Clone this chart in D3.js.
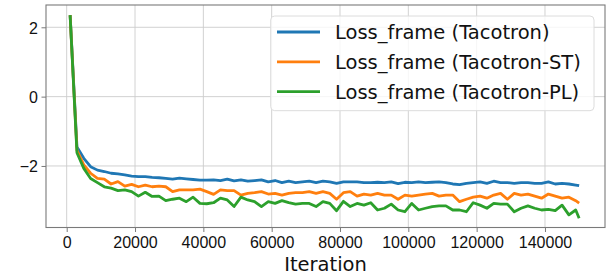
<!DOCTYPE html>
<html>
<head>
<meta charset="utf-8">
<script src="https://cdn.jsdelivr.net/npm/d3@7"></script>
<style>
  body { margin: 0; background: #fff; }
  svg { display: block; font-family: 'DejaVu Sans', sans-serif; }
  .grid line { stroke: #cccccc; stroke-width: 0.9; }
  .axis path, .axis line { stroke: #7a7a7a; }
  .axis text { fill: #111; font-size: 16px; }
</style>
</head>
<body>
<script>
// Data
const iterations = d3.range(1000, 150000, 2000).concat([150000]);
const tacotron = [
  2.35, -1.45, -1.78, -2.02, -2.12, -2.16, -2.21, -2.23, -2.26, -2.29,
  -2.31, -2.31, -2.33, -2.34, -2.36, -2.38, -2.35, -2.37, -2.39, -2.41,
  -2.41, -2.40, -2.42, -2.38, -2.43, -2.40, -2.44, -2.42, -2.40, -2.46,
  -2.42, -2.48, -2.44, -2.48, -2.46, -2.44, -2.48, -2.44, -2.46, -2.50,
  -2.46, -2.46, -2.46, -2.48, -2.48, -2.47, -2.48, -2.46, -2.51, -2.47,
  -2.48, -2.46, -2.48, -2.47, -2.46, -2.48, -2.52, -2.54, -2.50, -2.48,
  -2.46, -2.50, -2.44, -2.48, -2.48, -2.50, -2.48, -2.48, -2.50, -2.50,
  -2.46, -2.52, -2.50, -2.52, -2.55, -2.57
];
const tacotronST = [
  2.35, -1.55, -1.97, -2.21, -2.36, -2.38, -2.52, -2.45, -2.58, -2.53,
  -2.60, -2.55, -2.60, -2.58, -2.60, -2.74, -2.69, -2.69, -2.69, -2.67,
  -2.74, -2.82, -2.69, -2.71, -2.71, -2.84, -2.79, -2.77, -2.74, -2.81,
  -2.79, -2.84, -2.79, -2.77, -2.77, -2.74, -2.79, -2.74, -2.79, -2.96,
  -2.77, -2.74, -2.87, -2.81, -2.84, -2.79, -2.84, -2.84, -2.96, -2.84,
  -2.87, -2.84, -2.81, -2.79, -2.87, -2.84, -2.84, -3.03, -2.96, -2.90,
  -2.87, -2.93, -2.84, -2.79, -2.96, -2.79, -2.84, -2.81, -2.87, -2.93,
  -2.81, -2.87, -2.93, -2.90, -3.00, -3.07
];
const tacotronPL = [
  2.35, -1.62, -2.07, -2.36, -2.48, -2.60, -2.64, -2.71, -2.69, -2.74,
  -2.87, -2.76, -2.88, -2.87, -3.00, -2.96, -2.93, -3.03, -2.90, -3.08,
  -3.09, -3.06, -2.93, -2.98, -3.17, -2.90, -2.98, -3.03, -3.17, -3.03,
  -3.08, -3.00, -3.06, -3.10, -3.08, -3.08, -3.17, -3.03, -3.08, -3.29,
  -3.02, -3.17, -3.08, -3.13, -3.06, -3.27, -3.22, -3.10, -3.27, -3.32,
  -3.08, -3.27, -3.22, -3.17, -3.15, -3.15, -3.27, -3.27, -3.32, -3.06,
  -3.13, -3.22, -3.08, -3.10, -3.10, -3.32, -3.22, -3.15, -3.22, -3.27,
  -3.25, -3.29, -3.13, -3.41, -3.27, -3.51
];
const seriesNames = ['Loss_frame (Tacotron)', 'Loss_frame (Tacotron-ST)', 'Loss_frame (Tacotron-PL)'];
const seriesColors = ['#1f77b4', '#ff7f0e', '#2ca02c'];
const xTicks = [0, 20000, 40000, 60000, 80000, 100000, 120000, 140000];
const yTicks = [-2, 0, 2];

const series = [tacotron, tacotronST, tacotronPL].map((vals, i) => ({
  name: seriesNames[i],
  color: seriesColors[i],
  points: vals.map((v, j) => ({ x: iterations[j], y: v })),
}));

// SVG canvas
const width = 613;
const height = 278;
const margin = { top: 5, right: 8, bottom: 50.5, left: 46 };

const svg = d3.select('body')
  .append('svg')
    .attr('width', width)
    .attr('height', height);

const x = d3.scaleLinear()
  .domain([-6060, 157570])
  .range([margin.left, width - margin.right]);

const y = d3.scaleLinear()
  .domain([-3.775, 2.643])
  .range([height - margin.bottom, margin.top]);

// Grid
const grid = svg.append('g').attr('class', 'grid');
grid.selectAll('.gx')
    .data(xTicks)
  .enter().append('line')
    .attr('x1', (d) => x(d)).attr('x2', (d) => x(d))
    .attr('y1', margin.top).attr('y2', height - margin.bottom);
grid.selectAll('.gy')
    .data(yTicks)
  .enter().append('line')
    .attr('x1', margin.left).attr('x2', width - margin.right)
    .attr('y1', (d) => y(d)).attr('y2', (d) => y(d));

// Lines
const line = d3.line()
  .x((d) => x(d.x))
  .y((d) => y(d.y));

svg.append('g')
  .selectAll('path')
    .data(series)
  .enter().append('path')
    .attr('fill', 'none')
    .attr('stroke', (d) => d.color)
    .attr('stroke-width', 2.8)
    .attr('stroke-linejoin', 'round')
    .attr('d', (d) => line(d.points));

// Frame
svg.append('rect')
    .attr('x', margin.left)
    .attr('y', margin.top)
    .attr('width', width - margin.left - margin.right)
    .attr('height', height - margin.top - margin.bottom)
    .attr('fill', 'none')
    .attr('stroke', '#7a7a7a')
    .attr('stroke-width', 1.1);

// Axes
const xAxis = svg.append('g')
    .attr('class', 'axis')
    .attr('transform', `translate(0,${height - margin.bottom})`)
    .call(d3.axisBottom(x).tickValues(xTicks).tickFormat(d3.format('d')).tickSizeOuter(0).tickSize(4.5).tickPadding(5));
xAxis.select('.domain').remove();

const yAxis = svg.append('g')
    .attr('class', 'axis')
    .attr('transform', `translate(${margin.left},0)`)
    .call(d3.axisLeft(y).tickValues(yTicks).tickFormat(d3.format('d')).tickSizeOuter(0).tickSize(4.5).tickPadding(3.5));
yAxis.select('.domain').remove();
yAxis.selectAll('text').attr('dy', '0.36em');

svg.append('text')
    .attr('x', (margin.left + width - margin.right) / 2)
    .attr('y', 271.3)
    .attr('text-anchor', 'middle')
    .attr('font-size', '19.5px')
    .attr('fill', '#111')
    .text('Iteration');

// Legend
const legend = svg.append('g');
legend.append('rect')
    .attr('x', 270.7)
    .attr('y', 16)
    .attr('width', 323.3)
    .attr('height', 94.7)
    .attr('rx', 4)
    .attr('fill', 'rgba(255,255,255,0.8)')
    .attr('stroke', '#dcdcdc');

const items = legend.selectAll('.item')
    .data(series)
  .enter().append('g')
    .attr('transform', (d, i) => `translate(0,${32 + i * 29.85})`);

items.append('line')
    .attr('x1', 277).attr('x2', 320)
    .attr('stroke', (d) => d.color)
    .attr('stroke-width', 2.8);

items.append('text')
    .attr('x', 335)
    .attr('y', 7)
    .attr('font-size', '19.5px')
    .attr('fill', '#111')
    .text((d) => d.name);
</script>
</body>
</html>
